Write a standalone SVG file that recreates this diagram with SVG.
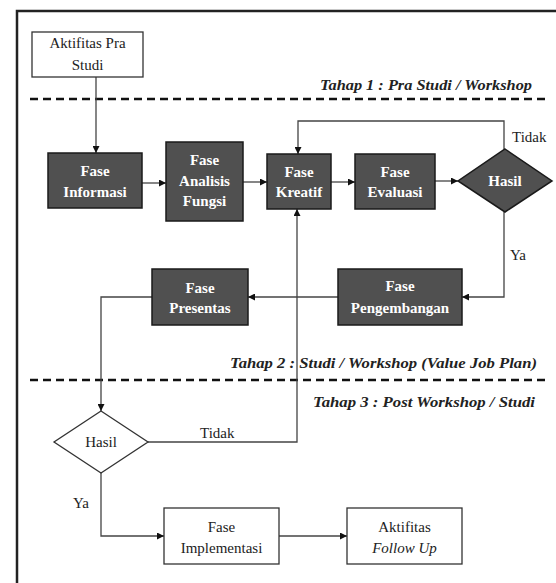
<svg xmlns="http://www.w3.org/2000/svg" width="556" height="583" viewBox="0 0 556 583" font-family="'Liberation Serif', 'DejaVu Serif', serif">
<style>
.frame{fill:none;stroke:#222;stroke-width:2.5}
.dash{fill:none;stroke:#111;stroke-width:2.5;stroke-dasharray:8 5}
.dark{fill:#505050;stroke:#1a1a1a;stroke-width:1.5}
.light{fill:#fff;stroke:#333;stroke-width:1.3}
.c{fill:none;stroke:#444;stroke-width:1.3}
.wt{font-size:15px;font-weight:bold;fill:#fff;text-anchor:middle}
.bt{font-size:15px;fill:#222;text-anchor:middle}
.lb{font-size:15px;fill:#222}
.tahap{font-size:15px;font-weight:bold;font-style:italic;fill:#222}
</style>
<defs>
<marker id="ah" viewBox="0 0 10 10" refX="10" refY="5" markerWidth="7" markerHeight="7" orient="auto" markerUnits="userSpaceOnUse">
<path d="M0,0 L10,5 L0,10 z" fill="#111"/>
</marker>
</defs>
<rect width="556" height="583" fill="#fff"/>
<path class="frame" d="M17,583 V11 H556"/>
<line class="dash" x1="30" y1="99" x2="548" y2="99"/>
<line class="dash" x1="30" y1="380" x2="548" y2="380"/>
<text class="tahap" x="320" y="90" textLength="212" lengthAdjust="spacingAndGlyphs">Tahap 1 : Pra Studi / Workshop</text>
<text class="tahap" x="230" y="368" textLength="307" lengthAdjust="spacingAndGlyphs">Tahap 2 : Studi / Workshop  (Value Job Plan)</text>
<text class="tahap" x="313" y="407" textLength="222" lengthAdjust="spacingAndGlyphs">Tahap 3 : Post Workshop  / Studi</text>
<g id="connectors">
<line class="c" x1="96" y1="77" x2="96" y2="153" marker-end="url(#ah)"/>
<line class="c" x1="142" y1="183" x2="166" y2="183" marker-end="url(#ah)"/>
<line class="c" x1="243" y1="182" x2="267" y2="182" marker-end="url(#ah)"/>
<line class="c" x1="331" y1="182" x2="355" y2="182" marker-end="url(#ah)"/>
<line class="c" x1="435" y1="181" x2="458" y2="181" marker-end="url(#ah)"/>
<polyline class="c" points="504,149 504,121 298,121 298,154" marker-end="url(#ah)"/>
<polyline class="c" points="504,212 504,297 462,297" marker-end="url(#ah)"/>
<line class="c" x1="338" y1="297" x2="248" y2="297" marker-end="url(#ah)"/>
<polyline class="c" points="152,297 101,297 101,411" marker-end="url(#ah)"/>
<polyline class="c" points="148,442 297,442 297,209" marker-end="url(#ah)"/>
<polyline class="c" points="101,473 101,536 164,536" marker-end="url(#ah)"/>
<line class="c" x1="279" y1="536" x2="347" y2="536" marker-end="url(#ah)"/>
<text class="lb" x="512" y="142">Tidak</text>
<text class="lb" x="510" y="260">Ya</text>
<text class="lb" x="200" y="438">Tidak</text>
<text class="lb" x="73" y="508">Ya</text>
</g>
<g id="aktifitas-pra-studi">
<rect class="light" x="32" y="32" width="111" height="45"/>
<text class="bt" x="87.5" y="48">Aktifitas Pra</text>
<text class="bt" x="87.5" y="70">Studi</text>
</g>
<g id="fase-informasi">
<rect class="dark" x="48" y="153" width="94" height="55"/>
<text class="wt" x="95" y="176">Fase</text>
<text class="wt" x="95" y="197">Informasi</text>
</g>
<g id="fase-analisis-fungsi">
<rect class="dark" x="166" y="142" width="77" height="79"/>
<text class="wt" x="204.5" y="165">Fase</text>
<text class="wt" x="204.5" y="186">Analisis</text>
<text class="wt" x="204.5" y="206">Fungsi</text>
</g>
<g id="fase-kreatif">
<rect class="dark" x="267" y="154" width="64" height="55"/>
<text class="wt" x="299" y="177">Fase</text>
<text class="wt" x="299" y="197">Kreatif</text>
</g>
<g id="fase-evaluasi">
<rect class="dark" x="355" y="154" width="80" height="55"/>
<text class="wt" x="395" y="177">Fase</text>
<text class="wt" x="395" y="197">Evaluasi</text>
</g>
<g id="hasil-1">
<polygon class="dark" points="505,149 552,181 505,212 458,181"/>
<text class="wt" x="505" y="186" fill="#eee">Hasil</text>
</g>
<g id="fase-pengembangan">
<rect class="dark" x="338" y="269" width="124" height="56"/>
<text class="wt" x="400" y="291">Fase</text>
<text class="wt" x="400" y="313">Pengembangan</text>
</g>
<g id="fase-presentas">
<rect class="dark" x="152" y="269" width="96" height="56"/>
<text class="wt" x="200" y="293">Fase</text>
<text class="wt" x="200" y="313">Presentas</text>
</g>
<g id="hasil-2">
<polygon class="light" points="101,411 148,442 101,473 54,442"/>
<text class="bt" x="101" y="447">Hasil</text>
</g>
<g id="fase-implementasi">
<rect class="light" x="164" y="508" width="115" height="56"/>
<text class="bt" x="221.5" y="532">Fase</text>
<text class="bt" x="221.5" y="553">Implementasi</text>
</g>
<g id="aktifitas-follow-up">
<rect class="light" x="347" y="508" width="115" height="56"/>
<text class="bt" x="404.5" y="532">Aktifitas</text>
<text class="bt" x="404.5" y="553" font-style="italic">Follow Up</text>
</g>
</svg>
